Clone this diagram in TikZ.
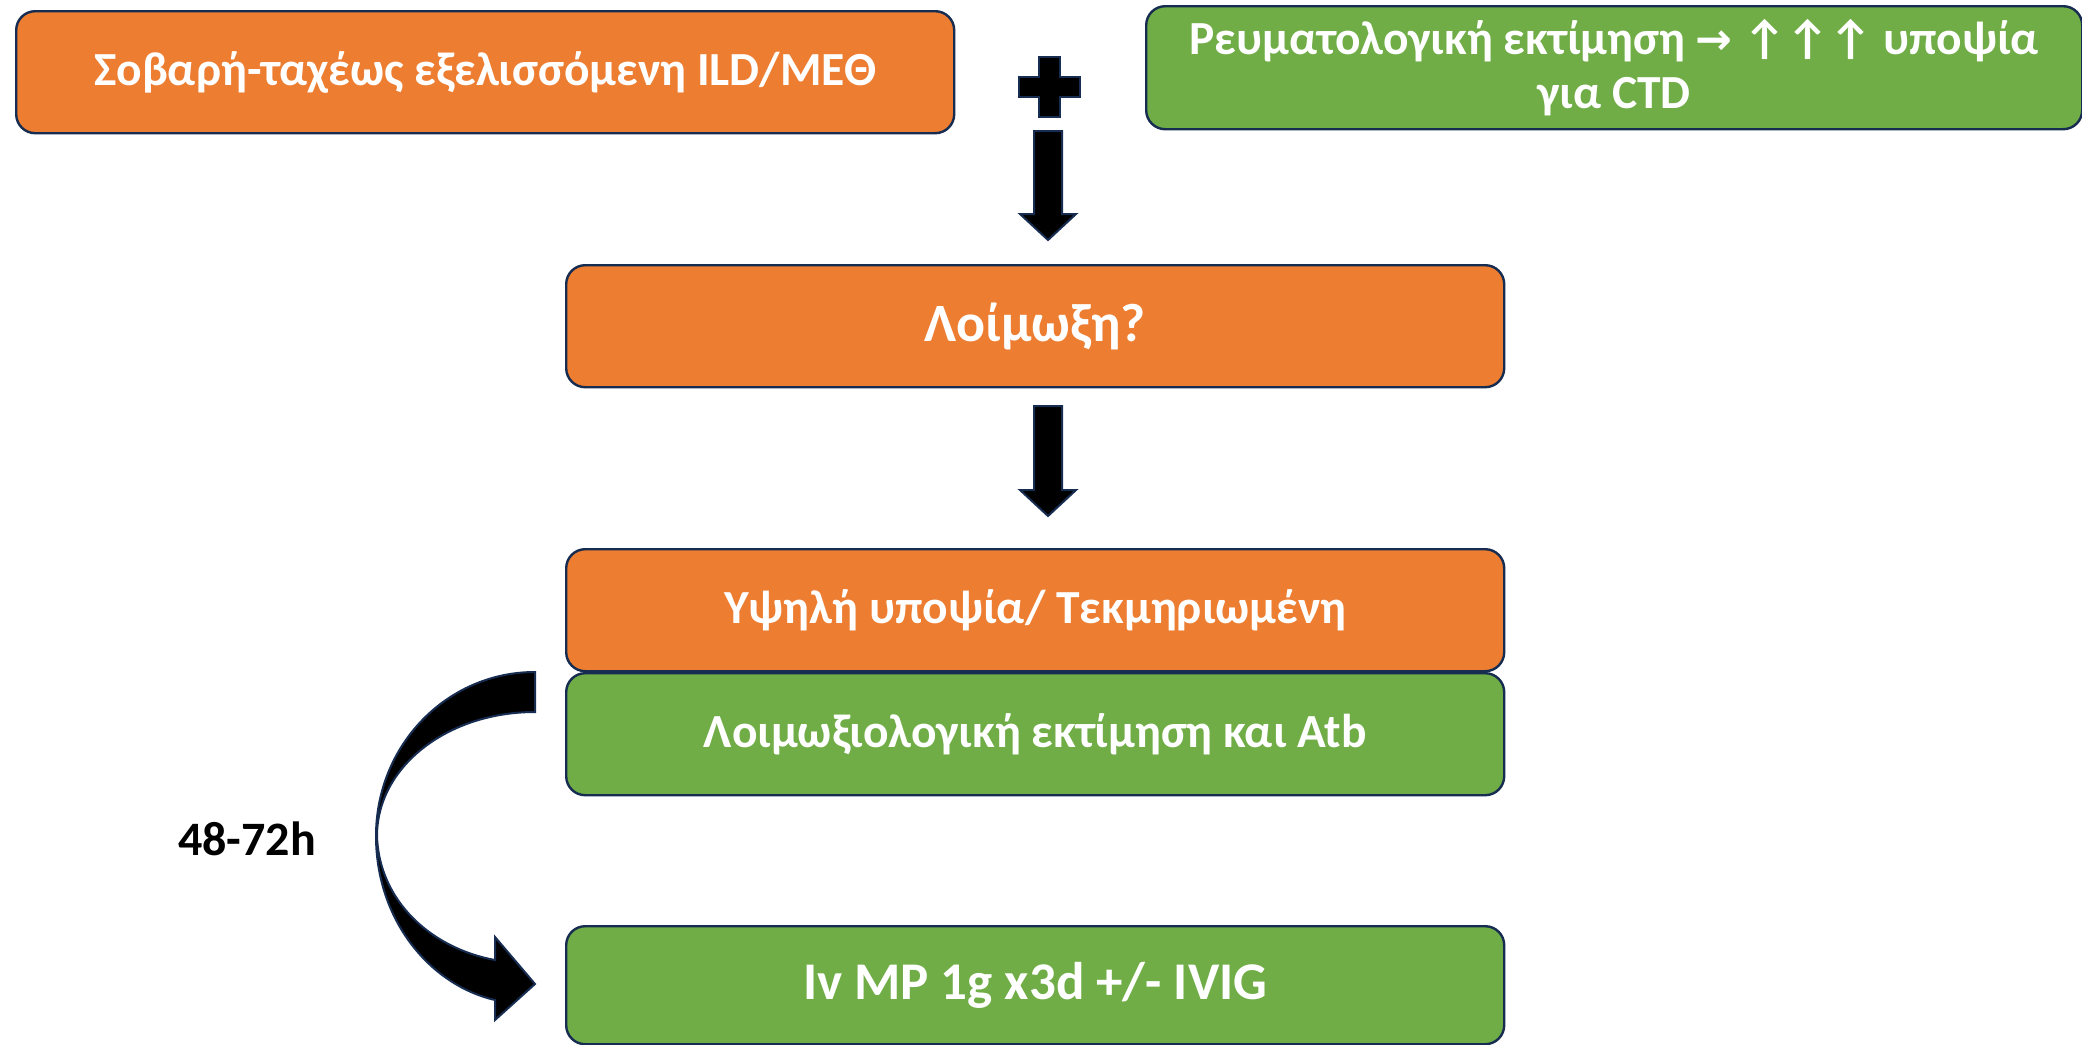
\documentclass[tikz,border=0pt]{standalone}
\usepackage{fontspec}
\setmainfont{Carlito}
\newfontfamily\symfont{DejaVu Sans}
\usetikzlibrary{calc}

\definecolor{boxorange}{RGB}{237,125,49}
\definecolor{boxgreen}{RGB}{112,173,71}
\definecolor{edgenavy}{RGB}{23,44,81}

\tikzset{
  box/.style={draw=edgenavy, line width=2.4pt, rounded corners=19pt,
    text=white, font=\fontsize{47.5}{54}\selectfont\bfseries,
    align=center, inner sep=0pt, minimum width=938pt, minimum height=122pt},
  orangebox/.style={box, fill=boxorange},
  greenbox/.style={box, fill=boxgreen},
  solidshape/.style={fill=black, draw=edgenavy, line width=2pt, line join=miter},
}

% down-pointing block arrow between two named coordinates
\newcommand\blockdown[2]{%
  \path[solidshape] let \p1=(#1), \p2=(#2) in
    (\x1-14pt,\y1) -- (\x1+14pt,\y1) -- (\x1+14pt,\y2+26pt) --
    (\x1+28pt,\y2+26pt) -- (\x2,\y2) -- (\x1-28pt,\y2+26pt) --
    (\x1-14pt,\y2+26pt) -- cycle;}

\begin{document}
\begin{tikzpicture}[x=1pt,y=-1pt]
\useasboundingbox[fill=white] (0,0) rectangle (2082,1044);

% boxes
\node[orangebox, anchor=north west] (severe) at (15,10)
  {Σοβαρή-ταχέως εξελισσόμενη ILD/ΜΕΘ};
\node[greenbox, anchor=north west, minimum width=936pt, minimum height=123pt] (rheum) at (1145,5)
  {Ρευματολογική εκτίμηση {\symfont\bfseries\fontsize{44}{54}\selectfont →} ↑↑↑ υποψία\\για CTD};
\node[orangebox, anchor=north west, font=\fontsize{54}{60}\selectfont\bfseries] (infect) at (565,264) {Λοίμωξη?};
\node[orangebox, anchor=north west] (high) at (565,548) {Υψηλή υποψία/ Τεκμηριωμένη};
\node[greenbox, anchor=north west] (atb) at (565,672) {Λοιμωξιολογική εκτίμηση και Atb};
\node[greenbox, anchor=north west, minimum height=118pt,
      font=\fontsize{53}{60}\selectfont\bfseries] (ivmp) at (565,925)
  {Iv MP 1g x3d +/- IVIG};

% plus sign
\path[solidshape] (1039,57) -- (1060,57) -- (1060,77) -- (1080,77) -- (1080,97)
  -- (1060,97) -- (1060,117) -- (1039,117) -- (1039,97) -- (1019,97)
  -- (1019,77) -- (1039,77) -- cycle;
\node[inner sep=0pt, minimum size=0pt] (plus) at (1049.5,87) {};

% straight block arrows
\coordinate (arrowAtop) at (1048,131);
\coordinate (arrowAtip) at (1048,240);
\coordinate (arrowBtop) at (1048,406);
\coordinate (arrowBtip) at (1048,516);
\blockdown{arrowAtop}{arrowAtip}
\blockdown{arrowBtop}{arrowBtip}

% curved block arrow
\path[solidshape] (535,672) .. controls (447,672) and (376,745) .. (376,836)
  .. controls (376,920) and (430,985) .. (495,1000)
  -- (495,1020) -- (535,984) -- (495,937) -- (495,960)
  .. controls (430,948) and (379,900) .. (377,836)
  .. controls (377,767) and (447,712) .. (535,712) -- cycle;

\node[font=\fontsize{48}{54}\selectfont\bfseries] (delay) at (247,839) {48-72h};
\end{tikzpicture}
\end{document}
